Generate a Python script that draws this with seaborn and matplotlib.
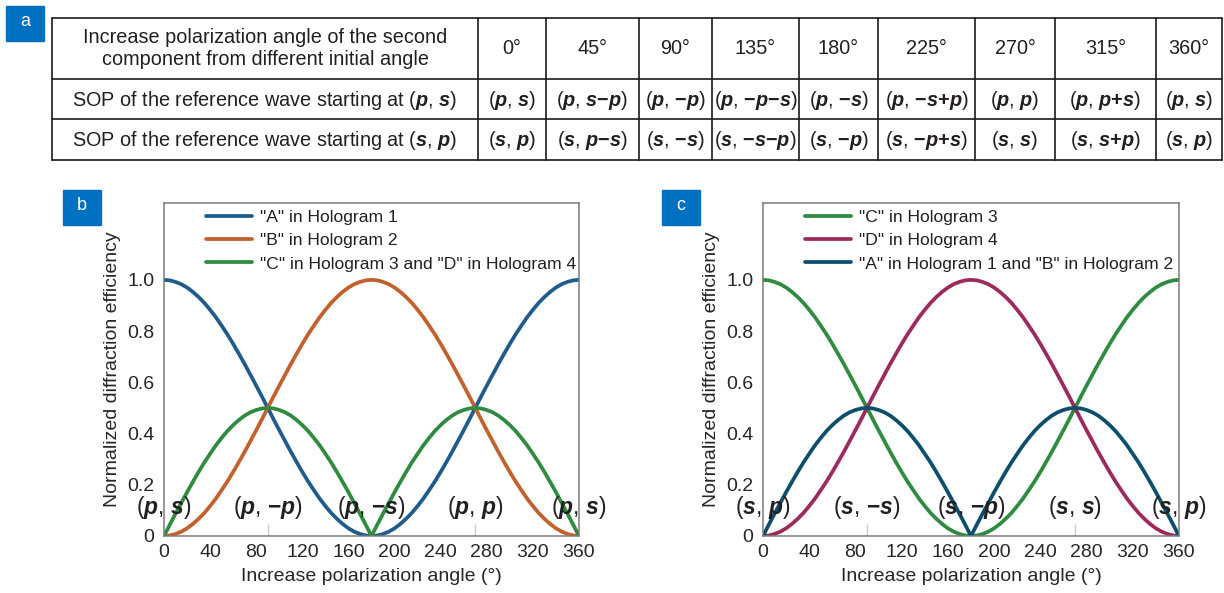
import seaborn as sns
import matplotlib.pyplot as plt
from matplotlib.patches import Rectangle
from matplotlib.ticker import FixedLocator, MultipleLocator

# Table (panel a)
header_text = "Increase polarization angle of the second\ncomponent from different initial angle"
angle_cols = ["0°", "45°", "90°", "135°", "180°", "225°", "270°", "315°", "360°"]
sop_ps = ["(p, s)", "(p, s−p)", "(p, −p)", "(p, −p−s)", "(p, −s)",
          "(p, −s+p)", "(p, p)", "(p, p+s)", "(p, s)"]
sop_sp = ["(s, p)", "(s, p−s)", "(s, −s)", "(s, −s−p)", "(s, −p)",
          "(s, −p+s)", "(s, s)", "(s, s+p)", "(s, p)"]

# Curves (panels b, c), every 5 degrees
angles = list(range(0, 361, 5))
eff_cos = [1.000, 0.998, 0.992, 0.983, 0.970, 0.953, 0.933, 0.910, 0.883, 0.854,
           0.821, 0.787, 0.750, 0.711, 0.671, 0.629, 0.587, 0.544, 0.500,
           0.456, 0.413, 0.371, 0.329, 0.289, 0.250, 0.213, 0.179, 0.146,
           0.117, 0.090, 0.067, 0.047, 0.030, 0.017, 0.008, 0.002, 0.000,
           0.002, 0.008, 0.017, 0.030, 0.047, 0.067, 0.090, 0.117, 0.146,
           0.179, 0.213, 0.250, 0.289, 0.329, 0.371, 0.413, 0.456, 0.500,
           0.544, 0.587, 0.629, 0.671, 0.711, 0.750, 0.787, 0.821, 0.854,
           0.883, 0.910, 0.933, 0.953, 0.970, 0.983, 0.992, 0.998, 1.000]
eff_sin = [0.000, 0.002, 0.008, 0.017, 0.030, 0.047, 0.067, 0.090, 0.117, 0.146,
           0.179, 0.213, 0.250, 0.289, 0.329, 0.371, 0.413, 0.456, 0.500,
           0.544, 0.587, 0.629, 0.671, 0.711, 0.750, 0.787, 0.821, 0.854,
           0.883, 0.910, 0.933, 0.953, 0.970, 0.983, 0.992, 0.998, 1.000,
           0.998, 0.992, 0.983, 0.970, 0.953, 0.933, 0.910, 0.883, 0.854,
           0.821, 0.787, 0.750, 0.711, 0.671, 0.629, 0.587, 0.544, 0.500,
           0.456, 0.413, 0.371, 0.329, 0.289, 0.250, 0.213, 0.179, 0.146,
           0.117, 0.090, 0.067, 0.047, 0.030, 0.017, 0.008, 0.002, 0.000]
eff_half = [0.000, 0.044, 0.087, 0.129, 0.171, 0.211, 0.250, 0.287, 0.321, 0.354,
            0.383, 0.410, 0.433, 0.453, 0.470, 0.483, 0.492, 0.498, 0.500,
            0.498, 0.492, 0.483, 0.470, 0.453, 0.433, 0.410, 0.383, 0.354,
            0.321, 0.287, 0.250, 0.211, 0.171, 0.129, 0.087, 0.044, 0.000,
            0.044, 0.087, 0.129, 0.171, 0.211, 0.250, 0.287, 0.321, 0.354,
            0.383, 0.410, 0.433, 0.453, 0.470, 0.483, 0.492, 0.498, 0.500,
            0.498, 0.492, 0.483, 0.470, 0.453, 0.433, 0.410, 0.383, 0.354,
            0.321, 0.287, 0.250, 0.211, 0.171, 0.129, 0.087, 0.044, 0.000]

legend_b = ['"A" in Hologram 1', '"B" in Hologram 2', '"C" in Hologram 3 and "D" in Hologram 4']
legend_c = ['"C" in Hologram 3', '"D" in Hologram 4', '"A" in Hologram 1 and "B" in Hologram 2']
colors_b = ["#1f5b8c", "#c2612c", "#2e8b3f"]
colors_c = ["#2e8b3f", "#9c2a5c", "#0c4f6c"]

ann_x = [0, 90, 180, 270, 360]
ann_b = ["(p, s)", "(p, −p)", "(p, −s)", "(p, p)", "(p, s)"]
ann_c = ["(s, p)", "(s, −s)", "(s, −p)", "(s, s)", "(s, p)"]

sns.set_style("white")
plt.rcParams['font.family'] = ['Liberation Sans', 'DejaVu Sans']
plt.rcParams['mathtext.fontset'] = 'custom'
plt.rcParams['mathtext.rm'] = 'Liberation Sans'
plt.rcParams['mathtext.it'] = 'Liberation Sans:italic'
plt.rcParams['mathtext.bf'] = 'Liberation Sans:bold'
plt.rcParams['mathtext.bfit'] = 'Liberation Sans:italic:bold'
plt.rcParams['text.color'] = '#231f20'


def fmt(t):
    # bold italic p/s, bold signs, plain brackets
    out = ""
    for ch in t:
        if ch in "ps":
            out += r"$\mathbfit{" + ch + "}$"
        elif ch == "−":
            out += r"$\mathbf{-}$"
        elif ch == "+":
            out += r"$\mathbf{+}$"
        else:
            out += ch
    return out


fig = plt.figure(figsize=(12.24, 5.93), dpi=100)

# overlay in pixel coordinates for the table and panel tags
ov = fig.add_axes([0, 0, 1, 1])
ov.set_xlim(0, 1224)
ov.set_ylim(593, 0)
ov.axis('off')

col_edges = [52, 478, 546, 639, 712, 799, 878, 975, 1055, 1156, 1222]
row_edges = [18, 79, 119, 160]
for x in col_edges:
    ov.plot([x, x], [row_edges[0], row_edges[-1]], color='#1a1a1a', lw=1.2)
for y in row_edges:
    ov.plot([col_edges[0], col_edges[-1]], [y, y], color='#1a1a1a', lw=1.2)

fs_tab = 14.3
ov.text((col_edges[0] + col_edges[1]) / 2, (row_edges[0] + row_edges[1]) / 2, header_text,
        ha='center', va='center', fontsize=fs_tab, linespacing=1.2)
ov.text((col_edges[0] + col_edges[1]) / 2, (row_edges[1] + row_edges[2]) / 2 + 1,
        "SOP of the reference wave starting at " + fmt("(p, s)"),
        ha='center', va='center', fontsize=fs_tab)
ov.text((col_edges[0] + col_edges[1]) / 2, (row_edges[2] + row_edges[3]) / 2 + 1,
        "SOP of the reference wave starting at " + fmt("(s, p)"),
        ha='center', va='center', fontsize=fs_tab)
for i in range(len(angle_cols)):
    xc = (col_edges[i + 1] + col_edges[i + 2]) / 2
    ov.text(xc, (row_edges[0] + row_edges[1]) / 2, angle_cols[i],
            ha='center', va='center', fontsize=fs_tab)
    ov.text(xc, (row_edges[1] + row_edges[2]) / 2 + 1, fmt(sop_ps[i]),
            ha='center', va='center', fontsize=fs_tab)
    ov.text(xc, (row_edges[2] + row_edges[3]) / 2 + 1, fmt(sop_sp[i]),
            ha='center', va='center', fontsize=fs_tab)

for tag, (x0, y0) in zip("abc", [(6, 6), (63, 190), (662, 190)]):
    ov.add_patch(Rectangle((x0, y0), 38, 35, color='#0070c0'))
    ov.text(x0 + 19, y0 + 16, tag, color='white', ha='center', va='center', fontsize=13)


def draw_panel(ax, series, labels, colors, ann):
    for ys, lab, col in zip(series, labels, colors):
        sns.lineplot(x=angles, y=ys, ax=ax, color=col, lw=2.7, label=lab)
    ax.set_xlim(0, 360)
    ax.set_ylim(0, 1.3)
    ax.set_xticks(range(0, 361, 40))
    ax.xaxis.set_minor_locator(MultipleLocator(20))
    ax.set_yticks([0, 0.2, 0.4, 0.6, 0.8, 1.0])
    ax.set_yticklabels(["0", "0.2", "0.4", "0.6", "0.8", "1.0"])
    ax.yaxis.set_minor_locator(FixedLocator([0.1, 0.3, 0.5, 0.7, 0.9]))
    ax.tick_params(axis='x', which='major', direction='in', length=5, width=1,
                   color='#555555', labelsize=14, pad=6)
    ax.tick_params(axis='x', which='minor', direction='in', length=3, width=1, color='#555555')
    ax.tick_params(axis='y', which='major', direction='out', length=5, width=1,
                   color='#555555', labelsize=14, pad=2)
    ax.tick_params(axis='y', which='minor', direction='in', length=3, width=1, color='#555555')
    for sp in ax.spines.values():
        sp.set_color('#7a7a7a')
        sp.set_linewidth(1.1)
    ax.set_xlabel("Increase polarization angle (°)", fontsize=14, labelpad=5)
    ax.set_ylabel("Normalized diffraction efficiency", fontsize=14, labelpad=4)
    ax.vlines([90, 270], 0, 0.045, color='#c8c8c8', lw=1, zorder=1)
    for xv, t in zip(ann_x, ann):
        ax.text(xv, 0.11, fmt(t), ha='center', va='center', fontsize=16.5, clip_on=False)
    ax.legend(loc='upper left', bbox_to_anchor=(0.085, 1.0), frameon=False, fontsize=12.6,
              handlelength=2.6, handletextpad=0.45, labelspacing=0.45, borderaxespad=0)


ax_b = fig.add_axes([164 / 1224, 1 - 536 / 593, 415 / 1224, 333 / 593])
draw_panel(ax_b, [eff_cos, eff_sin, eff_half], legend_b, colors_b, ann_b)

ax_c = fig.add_axes([763 / 1224, 1 - 536 / 593, 416 / 1224, 333 / 593])
draw_panel(ax_c, [eff_cos, eff_sin, eff_half], legend_c, colors_c, ann_c)

fig.savefig("out.png", dpi=100)
